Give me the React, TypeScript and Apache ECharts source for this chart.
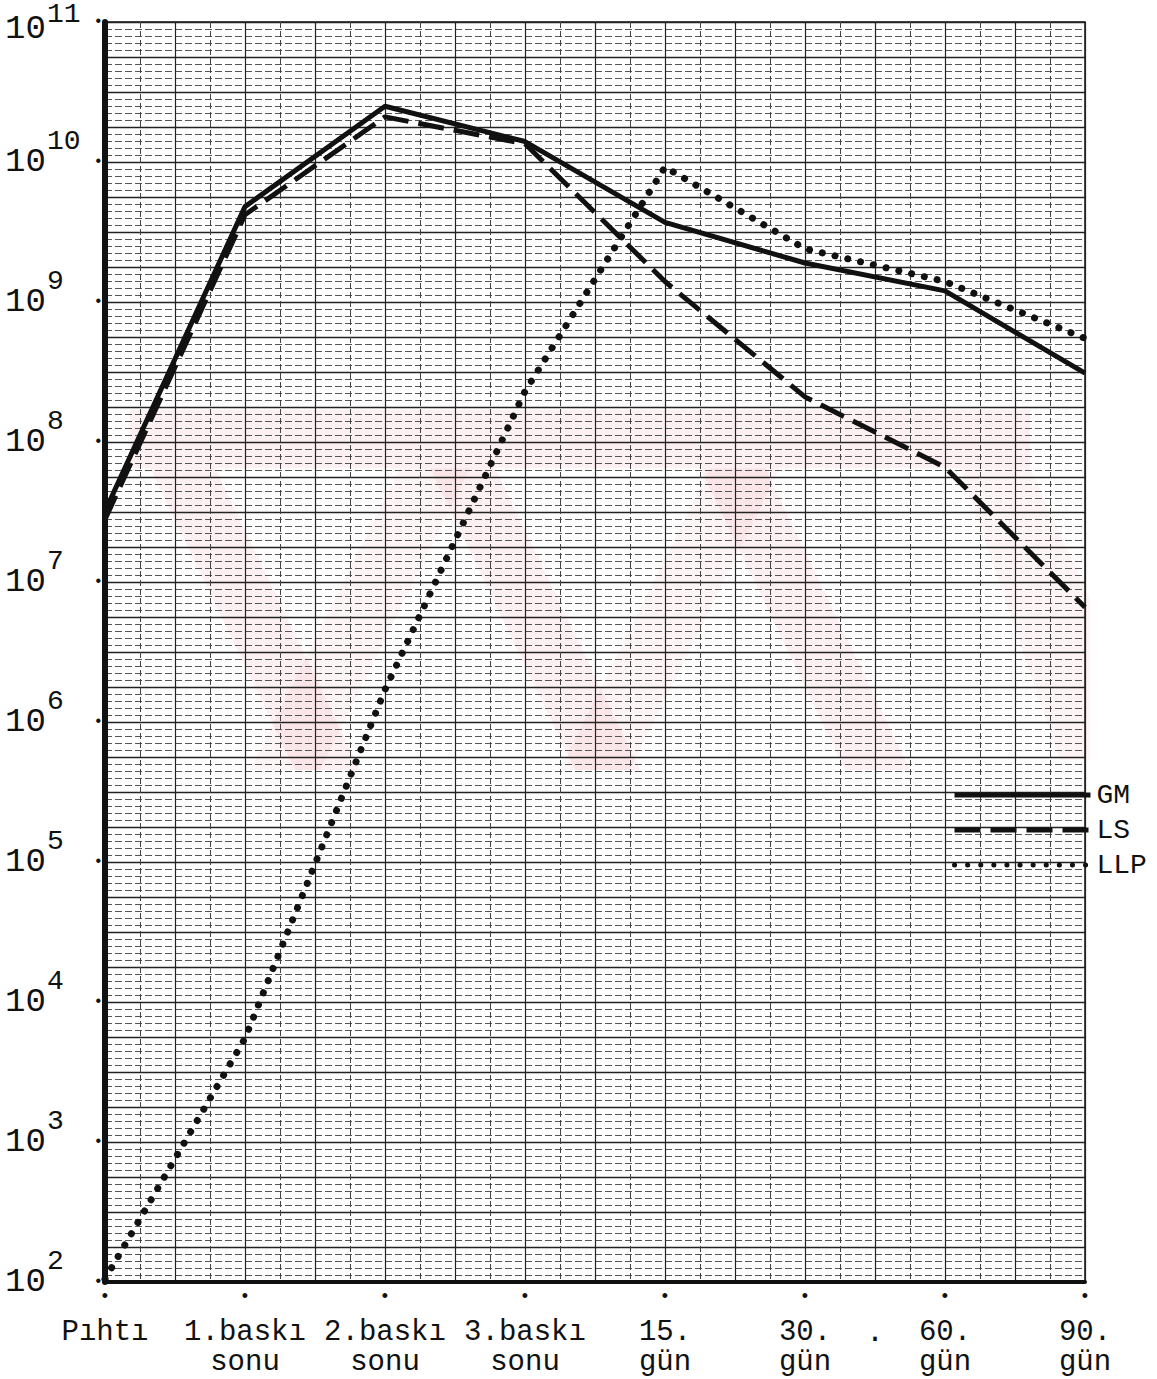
import React, { useEffect, useRef } from "react";
import * as echarts from "echarts";

const categories: string[][] = [
  ["Pıhtı"],
  ["1.baskı", "sonu"],
  ["2.baskı", "sonu"],
  ["3.baskı", "sonu"],
  ["15.", "gün"],
  ["30.", "gün"],
  ["60.", "gün"],
  ["90.", "gün"],
];

const gmValues = [3.2e7, 4.8e9, 2.5e10, 1.4e10, 3.7e9, 1.9e9, 1.2e9, 3.1e8];
const lsValues = [2.8e7, 4.2e9, 2.1e10, 1.35e10, 1.4e9, 2.1e8, 6.6e7, 6.6e6];
const llpValues = [1.05e2, 5.5e3, 1.7e6, 2.3e8, 9.2e9, 2.4e9, 1.4e9, 5.5e8];

const seriesNames = ["GM", "LS", "LLP"];
const yMin = 1e2;
const yMax = 1e11;

const FONT = "'Liberation Mono', 'DejaVu Sans Mono', monospace";
const INK = "#111";
const PINK = "rgba(230,110,130,0.10)";
const PINK2 = "rgba(230,110,130,0.08)";

export default function App() {
  const ref = useRef<HTMLDivElement>(null);

  useEffect(() => {
    document.body.style.margin = "0";
    if (!ref.current) return;
    const chart = echarts.init(ref.current, undefined, { renderer: "svg" });
    const catData = categories.map((c) => c.join("\n"));

    const option: any = {
      animation: false,
      backgroundColor: "#fff",
      grid: {
        left: 105,
        right: 72,
        top: 22,
        bottom: 97,
        show: true,
        borderColor: INK,
        borderWidth: 1.5,
        backgroundColor: "transparent",
        outerBoundsMode: "none",
        containLabel: false,
      },
      graphic: [
        {
          type: "group",
          silent: true,
          z: 1,
          children: [
            { type: "rect", shape: { x: 130, y: 410, width: 900, height: 58 }, style: { fill: PINK } },
            { type: "polygon", shape: { points: [[150, 468], [215, 468], [360, 770], [295, 770]] }, style: { fill: PINK } },
            { type: "polygon", shape: { points: [[430, 468], [495, 468], [640, 770], [575, 770]] }, style: { fill: PINK } },
            { type: "polygon", shape: { points: [[700, 468], [765, 468], [910, 770], [845, 770]] }, style: { fill: PINK } },
            { type: "polygon", shape: { points: [[250, 770], [320, 770], [470, 468], [400, 468]] }, style: { fill: PINK2 } },
            { type: "polygon", shape: { points: [[560, 770], [630, 770], [780, 468], [710, 468]] }, style: { fill: PINK2 } },
            { type: "polygon", shape: { points: [[960, 468], [1030, 468], [1090, 600], [1090, 760], [1060, 760]] }, style: { fill: PINK2 } },
          ],
        },
        {
          type: "text",
          left: 866,
          top: 1318,
          style: { text: ".", font: `30px ${FONT}`, fill: INK },
        },
      ],
      legend: {
        orient: "vertical",
        left: 947,
        top: 776,
        itemWidth: 136,
        itemHeight: 14,
        itemGap: 7,
        data: seriesNames,
        itemStyle: { opacity: 0 },
        lineStyle: { width: 5 },
        textStyle: { fontFamily: FONT, fontSize: 28, color: INK, padding: [0, 0, 0, 1] },
        selectedMode: false,
      },
      xAxis: [
        {
          type: "category",
          data: catData,
          boundaryGap: false,
          axisLine: { show: true, lineStyle: { color: INK, width: 4 } },
          axisTick: { show: false },
          splitLine: { show: false },
          axisLabel: {
            interval: 0,
            margin: 35,
            lineHeight: 30,
            fontSize: 29,
            fontFamily: FONT,
            color: INK,
          },
          z: 5,
        },
        {
          type: "category",
          data: catData,
          boundaryGap: false,
          position: "bottom",
          axisLine: { show: false },
          axisTick: { show: false },
          splitLine: { show: false },
          axisLabel: {
            interval: 0,
            margin: 6,
            formatter: () => "•",
            fontSize: 18,
            lineHeight: 18,
            fontFamily: FONT,
            color: INK,
          },
        },
        {
          type: "value",
          min: 0,
          max: 7,
          interval: 0.5,
          position: "top",
          axisLine: { show: false },
          axisTick: { show: false },
          axisLabel: { show: false },
          splitLine: { show: true, lineStyle: { color: "#222", width: 1.2 } },
          minorTick: { show: false, splitNumber: 2 },
          minorSplitLine: { show: true, lineStyle: { color: "#444", width: 1, type: [6, 3] } },
        },
      ],
      yAxis: [
        {
          type: "log",
          logBase: 10,
          min: yMin,
          max: yMax,
          splitNumber: 9,
          axisLine: { show: true, lineStyle: { color: INK, width: 6 } },
          axisTick: { show: false },
          splitLine: { show: false },
          axisLabel: {
            margin: 100,
            align: "left",
            formatter: (v: number) => {
              const e = Math.round(Math.log10(v));
              if (e === 11) return `{b2|10}{s2|${e}}{d|•}`;
              return `{b|10}{s|${e}}{d|•}`;
            },
            rich: {
              b: { fontSize: 34, width: 42, color: INK, fontFamily: FONT },
              s: { fontSize: 28, width: 46, padding: [0, 0, 42, 0], color: INK, fontFamily: FONT },
              b2: { fontSize: 34, width: 42, padding: [14, 0, 0, 0], color: INK, fontFamily: FONT },
              s2: { fontSize: 28, width: 46, padding: [0, 0, 16, 0], color: INK, fontFamily: FONT },
              d: { fontSize: 16, width: 10, align: "right", color: INK, fontFamily: FONT },
            },
          },
          z: 5,
        },
        {
          type: "value",
          min: 2,
          max: 11,
          interval: 0.25,
          position: "right",
          axisLine: { show: false },
          axisTick: { show: false },
          axisLabel: { show: false },
          splitLine: { show: true, lineStyle: { color: "#222", width: 1.4 } },
          minorTick: { show: false, splitNumber: 5 },
          minorSplitLine: { show: true, lineStyle: { color: "#555", width: 1, type: [7, 3] } },
        },
      ],
      series: [
        {
          name: seriesNames[0],
          type: "line",
          data: gmValues,
          symbol: "none",
          xAxisIndex: 0,
          yAxisIndex: 0,
          z: 10,
          lineStyle: { color: INK, width: 5 },
          itemStyle: { color: INK },
        },
        {
          name: seriesNames[1],
          type: "line",
          data: lsValues,
          symbol: "none",
          xAxisIndex: 0,
          yAxisIndex: 0,
          z: 10,
          lineStyle: { color: INK, width: 5, type: [26, 10] },
          itemStyle: { color: INK },
        },
        {
          name: seriesNames[2],
          type: "line",
          data: llpValues,
          symbol: "none",
          xAxisIndex: 0,
          yAxisIndex: 0,
          z: 10,
          lineStyle: { color: INK, width: 7, type: [0.1, 13], cap: "round" },
          itemStyle: { color: INK },
        },
      ],
    };

    chart.setOption(option);
    return () => chart.dispose();
  }, []);

  return <div ref={ref} style={{ width: 1157, height: 1379 }} />;
}
